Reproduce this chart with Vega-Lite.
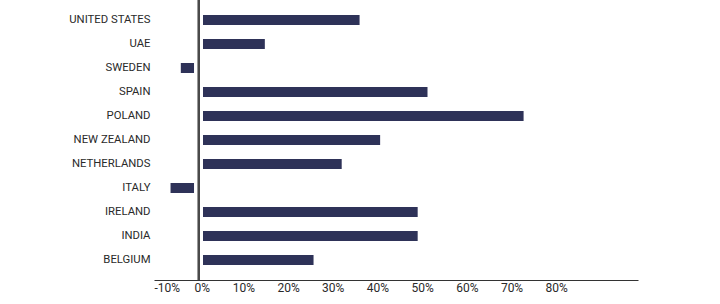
{
  "$schema": "https://vega.github.io/schema/vega-lite/v6.json",
  "width": 484,
  "height": 280,
  "autosize": "none",
  "padding": {"left": 154, "top": 0, "right": 82, "bottom": 24},
  "background": "white",
  "config": {
    "view": {"stroke": null},
    "font": "Roboto",
    "axis": {"labelFont": "Roboto", "labelColor": "#2a2a2a", "labelFontSize": 12, "grid": false, "ticks": false, "title": null}
  },
  "data": {
    "values": [
      {"country": "UNITED STATES", "value": 36.0},
      {"country": "UAE", "value": 14.8},
      {"country": "SWEDEN", "value": -4.0},
      {"country": "SPAIN", "value": 51.2},
      {"country": "POLAND", "value": 72.7},
      {"country": "NEW ZEALAND", "value": 40.6},
      {"country": "NETHERLANDS", "value": 32.0},
      {"country": "ITALY", "value": -6.3},
      {"country": "IRELAND", "value": 49.0},
      {"country": "INDIA", "value": 49.0},
      {"country": "BELGIUM", "value": 25.7}
    ]
  },
  "layer": [
    {
      "mark": {"type": "bar", "color": "#2e3258"},
      "encoding": {
        "y": {
          "field": "country", "type": "nominal", "sort": "descending",
          "scale": {"paddingInner": 0.583, "paddingOuter": 0.625},
          "axis": {"domain": false, "labelPadding": 4, "labelLimit": 200, "labelFontSize": 11.3}
        },
        "x": {
          "field": "value", "type": "quantitative",
          "scale": {"domain": [-10, 98.3], "nice": false, "zero": false},
          "axis": {
            "values": [-10, 0, 10, 20, 30, 40, 50, 60, 70, 80],
            "labelExpr": "datum.value + '%'",
            "domainColor": "#333333", "domainWidth": 1,
            "labelPadding": 2,
            "labelAlign": {"condition": {"test": "datum.value < 0", "value": "left"}, "value": "center"},
            "labelOffset": {"condition": {"test": "datum.value == 0", "value": 3}, "value": 0},
            "labelFlush": false
          }
        }
      }
    },
    {
      "mark": {"type": "rule", "color": "white", "strokeWidth": 8},
      "encoding": {"x": {"datum": 0, "type": "quantitative"}}
    },
    {
      "mark": {"type": "rule", "color": "#4a4a4a", "strokeWidth": 1.5},
      "encoding": {"x": {"datum": 0, "type": "quantitative"}}
    }
  ]
}
